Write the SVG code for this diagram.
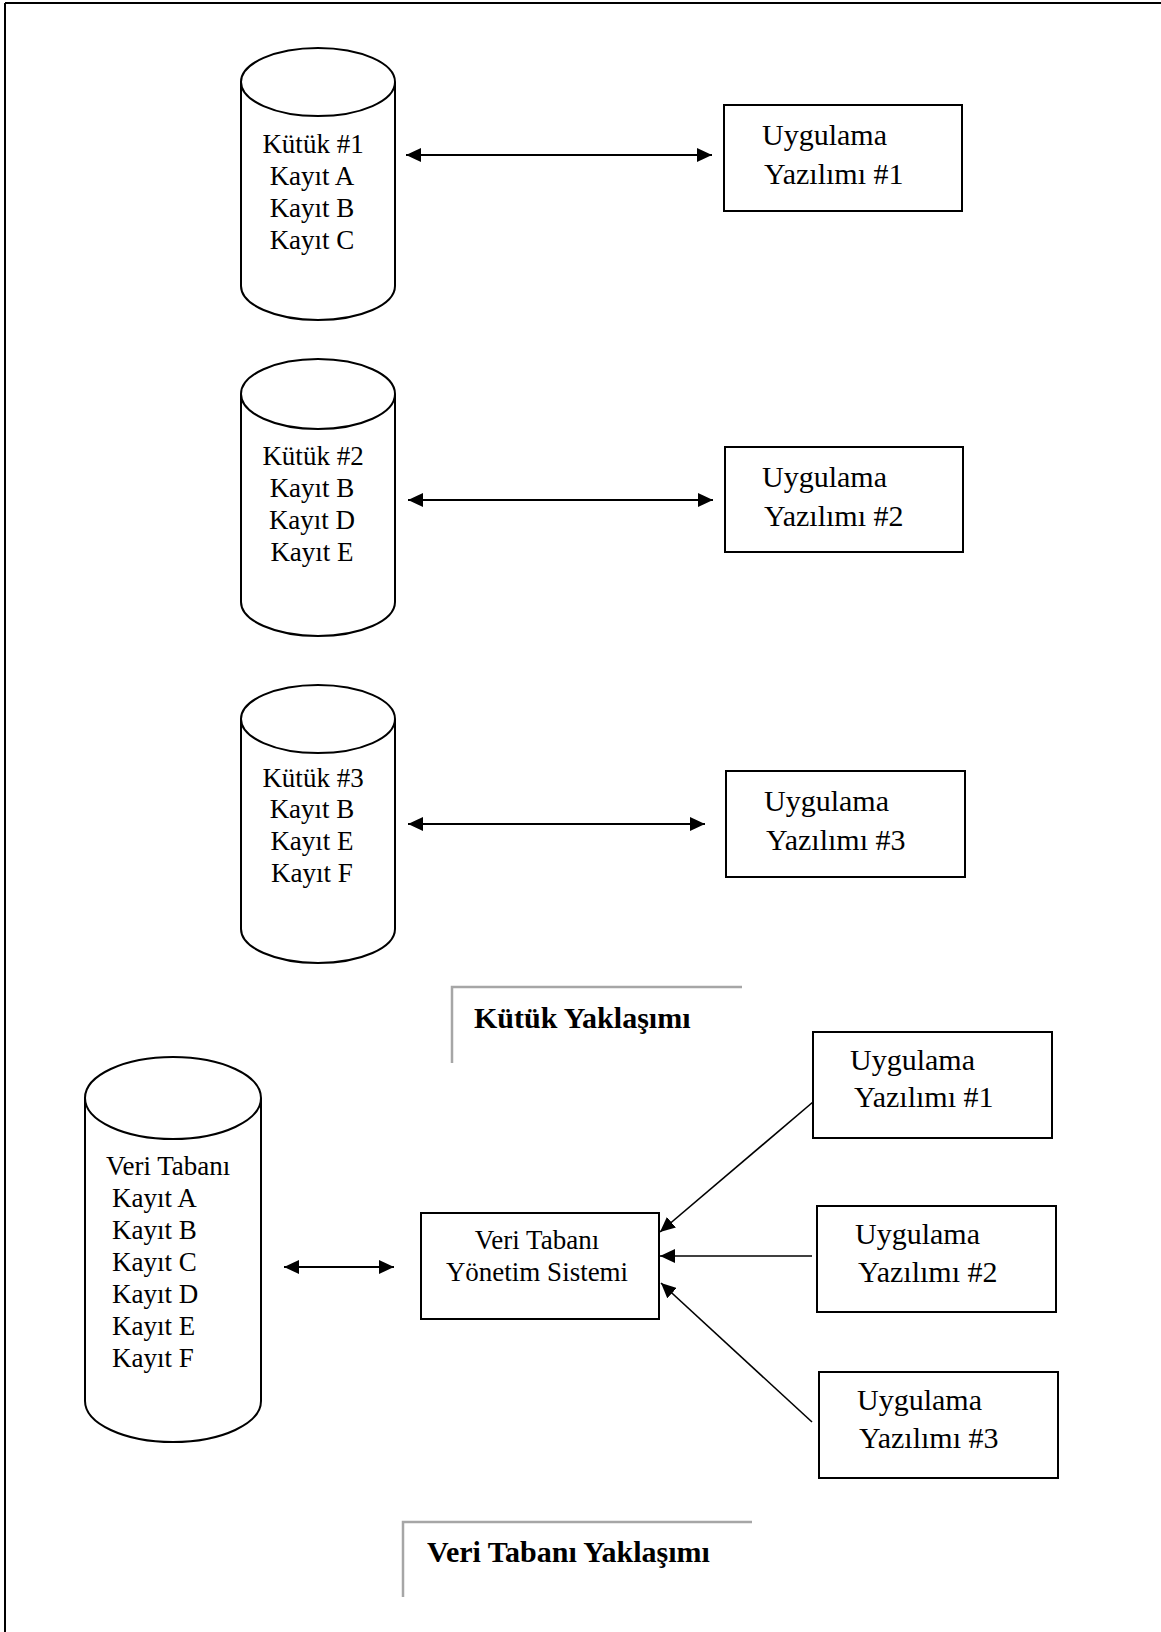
<svg xmlns="http://www.w3.org/2000/svg" width="1161" height="1632" viewBox="0 0 1161 1632">
  <style>
    .shape { fill: #ffffff; stroke: #000000; stroke-width: 2; }
    .box { fill: #ffffff; stroke: #000000; stroke-width: 2; }
    .link { fill: none; stroke: #000000; stroke-width: 2; }
    .thin { fill: none; stroke: #000000; stroke-width: 1.6; }
    .rule { fill: none; stroke: #a6a6a6; stroke-width: 2.5; }
    .cyl { font-family: "Liberation Serif", "Times New Roman", serif; font-size: 27px; fill: #000; }
    .app { font-family: "Liberation Serif", "Times New Roman", serif; font-size: 30px; fill: #000; }
    .title { font-family: "Liberation Serif", "Times New Roman", serif; font-size: 30px; font-weight: bold; fill: #000; }
  </style>
  <defs>
    <marker id="head" markerUnits="userSpaceOnUse" markerWidth="16" markerHeight="14" refX="15" refY="7" orient="auto-start-reverse">
      <path d="M0,0 L15,7 L0,14 z" fill="#000"/>
    </marker>
  </defs>

  <rect width="1161" height="1632" fill="#ffffff"/>
  <!-- page frame (top and left edges) -->
  <path d="M5,3 H1161 M5,3 V1632" fill="none" stroke="#000" stroke-width="2"/>

  <!-- file-based approach -->
  <g id="kutuk1">
    <path class="shape" d="M241,82 V286 A77,34 0 0 0 395,286 V82"/>
    <ellipse class="shape" cx="318" cy="82" rx="77" ry="34"/>
    <text class="cyl" text-anchor="middle" x="313" y="153">Kütük #1</text>
    <text class="cyl" text-anchor="middle" x="312" y="185">Kayıt A</text>
    <text class="cyl" text-anchor="middle" x="312" y="217">Kayıt B</text>
    <text class="cyl" text-anchor="middle" x="312" y="249">Kayıt C</text>
  </g>
  <g id="uygulama1">
    <rect class="box" x="724" y="105" width="238" height="106"/>
    <text class="app" x="762" y="145">Uygulama</text>
    <text class="app" x="764" y="184">Yazılımı #1</text>
  </g>

  <g id="kutuk2">
    <path class="shape" d="M241,394 V602 A77,34 0 0 0 395,602 V394"/>
    <ellipse class="shape" cx="318" cy="394" rx="77" ry="35"/>
    <text class="cyl" text-anchor="middle" x="313" y="465">Kütük #2</text>
    <text class="cyl" text-anchor="middle" x="312" y="497">Kayıt B</text>
    <text class="cyl" text-anchor="middle" x="312" y="529">Kayıt D</text>
    <text class="cyl" text-anchor="middle" x="312" y="561">Kayıt E</text>
  </g>
  <g id="uygulama2">
    <rect class="box" x="725" y="447" width="238" height="105"/>
    <text class="app" x="762" y="487">Uygulama</text>
    <text class="app" x="764" y="526">Yazılımı #2</text>
  </g>

  <g id="kutuk3">
    <path class="shape" d="M241,719 V929 A77,34 0 0 0 395,929 V719"/>
    <ellipse class="shape" cx="318" cy="719" rx="77" ry="34"/>
    <text class="cyl" text-anchor="middle" x="313" y="787">Kütük #3</text>
    <text class="cyl" text-anchor="middle" x="312" y="818">Kayıt B</text>
    <text class="cyl" text-anchor="middle" x="312" y="850">Kayıt E</text>
    <text class="cyl" text-anchor="middle" x="312" y="882">Kayıt F</text>
  </g>
  <g id="uygulama3">
    <rect class="box" x="726" y="771" width="239" height="106"/>
    <text class="app" x="764" y="811">Uygulama</text>
    <text class="app" x="766" y="850">Yazılımı #3</text>
  </g>

  <g id="kutuk-yaklasimi">
    <path class="rule" d="M452,1063 V987 H742"/>
    <text class="title" x="474" y="1028">Kütük Yaklaşımı</text>
  </g>

  <!-- database approach -->
  <g id="veri-tabani">
    <path class="shape" d="M85,1098 V1401 A88,41 0 0 0 261,1401 V1098"/>
    <ellipse class="shape" cx="173" cy="1098" rx="88" ry="41"/>
    <text class="cyl" x="106" y="1175">Veri Tabanı</text>
    <text class="cyl" x="112" y="1207">Kayıt A</text>
    <text class="cyl" x="112" y="1239">Kayıt B</text>
    <text class="cyl" x="112" y="1271">Kayıt C</text>
    <text class="cyl" x="112" y="1303">Kayıt D</text>
    <text class="cyl" x="112" y="1335">Kayıt E</text>
    <text class="cyl" x="112" y="1367">Kayıt F</text>
  </g>
  <g id="vtys">
    <rect class="box" x="421" y="1213" width="238" height="106"/>
    <text class="cyl" text-anchor="middle" x="537" y="1249">Veri Tabanı</text>
    <text class="cyl" text-anchor="middle" x="537" y="1281">Yönetim Sistemi</text>
  </g>
  <g id="db-uygulama1">
    <rect class="box" x="813" y="1032" width="239" height="106"/>
    <text class="app" x="850" y="1070">Uygulama</text>
    <text class="app" x="854" y="1107">Yazılımı #1</text>
  </g>
  <g id="db-uygulama2">
    <rect class="box" x="817" y="1206" width="239" height="106"/>
    <text class="app" x="855" y="1244">Uygulama</text>
    <text class="app" x="858" y="1282">Yazılımı #2</text>
  </g>
  <g id="db-uygulama3">
    <rect class="box" x="819" y="1372" width="239" height="106"/>
    <text class="app" x="857" y="1410">Uygulama</text>
    <text class="app" x="859" y="1448">Yazılımı #3</text>
  </g>

  <g id="veri-tabani-yaklasimi">
    <path class="rule" d="M403,1597 V1522 H752"/>
    <text class="title" x="427" y="1562">Veri Tabanı Yaklaşımı</text>
  </g>

  <!-- connectors -->
  <g id="connectors">
    <line class="link" x1="406" y1="155" x2="712" y2="155" marker-start="url(#head)" marker-end="url(#head)"/>
    <line class="link" x1="408" y1="500" x2="713" y2="500" marker-start="url(#head)" marker-end="url(#head)"/>
    <line class="link" x1="408" y1="824" x2="705" y2="824" marker-start="url(#head)" marker-end="url(#head)"/>
    <line class="link" x1="284" y1="1267" x2="394" y2="1267" marker-start="url(#head)" marker-end="url(#head)"/>
    <line class="thin" x1="813" y1="1102" x2="660" y2="1232" marker-end="url(#head)"/>
    <line class="thin" x1="812" y1="1256" x2="660" y2="1256" marker-end="url(#head)"/>
    <line class="thin" x1="812" y1="1422" x2="661" y2="1283" marker-end="url(#head)"/>
  </g>
</svg>
